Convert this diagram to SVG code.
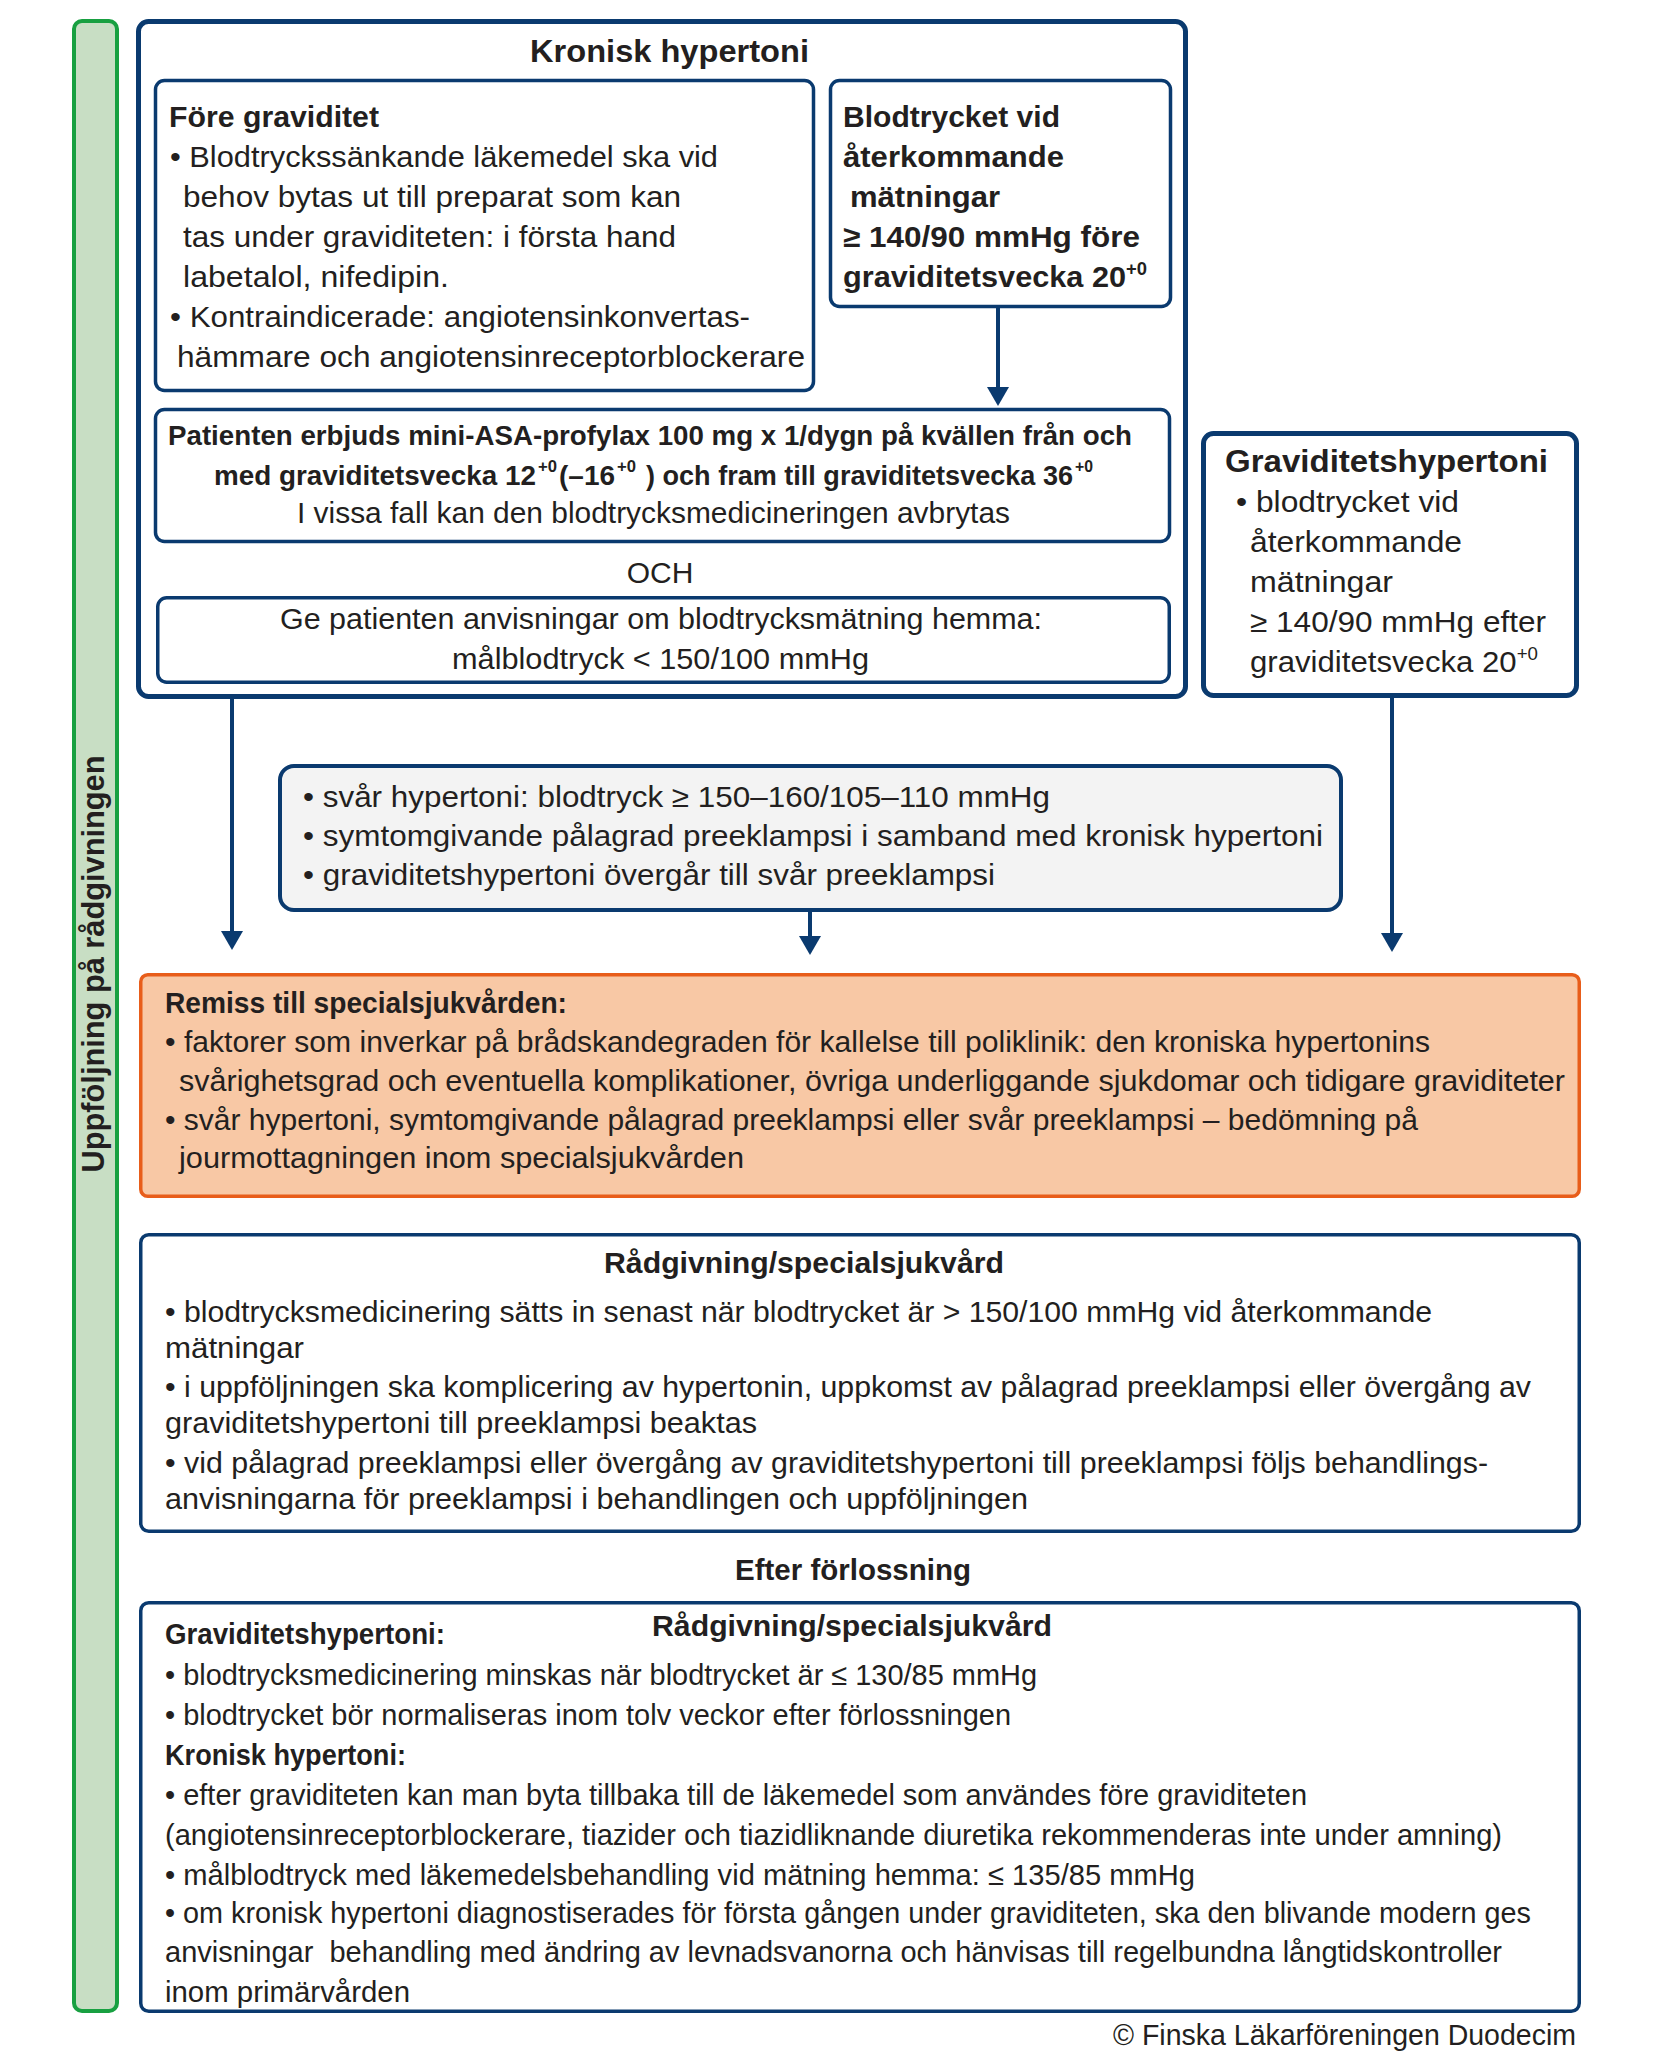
<svg xmlns="http://www.w3.org/2000/svg" width="1654" height="2069" viewBox="0 0 1654 2069">
<defs>
<style>
.t{font-family:"Liberation Sans",Arial,sans-serif;fill:#231f20}
.r{font-size:30px}
.b{font-size:29px;font-weight:bold}
.b28{font-size:28px;font-weight:bold}
.sup{font-size:17px;font-weight:bold}
.b30{font-size:30px;font-weight:bold}
.h{font-size:32px;font-weight:bold}
.box{fill:#fff;stroke:#0a3a6f;stroke-width:3.5}
.obox{fill:#fff;stroke:#0a3a6f;stroke-width:5}
.conn{fill:none;stroke:#0a3a6f;stroke-width:4}
</style>
<marker id="ah" viewBox="0 0 19 22" markerWidth="19" markerHeight="22" refX="9" refY="11" orient="auto" markerUnits="userSpaceOnUse">
<path d="M0,0 L19,11 L0,22 Z" fill="#0a3a6f"/>
</marker>
</defs>
<rect width="1654" height="2069" fill="#fff"/>

<g id="side-label">
<rect x="74" y="21" width="43" height="1990" rx="8" fill="#c8dec4" stroke="#18a041" stroke-width="4"/>
<text class="t" x="104" y="964" font-size="31" font-weight="bold" text-anchor="middle" textLength="417" lengthAdjust="spacingAndGlyphs" transform="rotate(-90 104 964)">Uppföljning på rådgivningen</text>
</g>

<g id="kronisk-hypertoni">
<rect class="obox" x="138.5" y="21.5" width="1047" height="675" rx="10"/>
<text class="t h" x="530" y="62" textLength="279" lengthAdjust="spacingAndGlyphs">Kronisk hypertoni</text>
</g>

<g id="fore-graviditet">
<rect class="box" x="155.5" y="80.5" width="658" height="310" rx="9"/>
<text class="t b30" x="169" y="127" textLength="210" lengthAdjust="spacingAndGlyphs">Före graviditet</text>
<text class="t r" x="170" y="167" textLength="548" lengthAdjust="spacingAndGlyphs">• Blodtryckssänkande läkemedel ska vid</text>
<text class="t r" x="183" y="207" textLength="498" lengthAdjust="spacingAndGlyphs">behov bytas ut till preparat som kan</text>
<text class="t r" x="183" y="247" textLength="493" lengthAdjust="spacingAndGlyphs">tas under graviditeten: i första hand</text>
<text class="t r" x="183" y="287" textLength="266" lengthAdjust="spacingAndGlyphs">labetalol, nifedipin.</text>
<text class="t r" x="170" y="327" textLength="580" lengthAdjust="spacingAndGlyphs">• Kontraindicerade: angiotensinkonvertas-</text>
<text class="t r" x="177" y="367" textLength="628" lengthAdjust="spacingAndGlyphs">hämmare och angiotensinreceptorblockerare</text>
</g>

<g id="blodtrycket-fore">
<rect class="box" x="830.5" y="80.5" width="340" height="226" rx="9"/>
<text class="t b30" x="843" y="127" textLength="217" lengthAdjust="spacingAndGlyphs">Blodtrycket vid</text>
<text class="t b30" x="843" y="167" textLength="221" lengthAdjust="spacingAndGlyphs">återkommande</text>
<text class="t b30" x="850" y="207" textLength="150" lengthAdjust="spacingAndGlyphs">mätningar</text>
<text class="t b30" x="843" y="247" textLength="297" lengthAdjust="spacingAndGlyphs">≥ 140/90 mmHg före</text>
<text class="t b30" x="843" y="287" textLength="304" lengthAdjust="spacingAndGlyphs">graviditetsvecka 20<tspan font-size="18" dy="-12">+0</tspan></text>
</g>

<g id="asa-profylax">
<rect class="box" x="155.5" y="409.5" width="1014" height="132" rx="9"/>
<text class="t b28" x="168" y="445" textLength="964" lengthAdjust="spacingAndGlyphs">Patienten erbjuds mini-ASA-profylax 100 mg x 1/dygn på kvällen från och</text>
<text class="t b28" x="214" y="485" textLength="322" lengthAdjust="spacingAndGlyphs">med graviditetsvecka 12</text>
<text class="t sup" x="538" y="472" textLength="19" lengthAdjust="spacingAndGlyphs">+0</text>
<text class="t b28" x="559" y="485" textLength="56" lengthAdjust="spacingAndGlyphs">(–16</text>
<text class="t sup" x="617" y="472" textLength="19" lengthAdjust="spacingAndGlyphs">+0</text>
<text class="t" font-size="27" font-weight="bold" x="646" y="485" textLength="427" lengthAdjust="spacingAndGlyphs">) och fram till graviditetsvecka 36</text>
<text class="t sup" x="1075" y="472" textLength="18" lengthAdjust="spacingAndGlyphs">+0</text>
<text class="t r" x="297" y="523" textLength="713" lengthAdjust="spacingAndGlyphs">I vissa fall kan den blodtrycksmedicineringen avbrytas</text>
</g>

<text id="och-label" class="t r" x="660" y="583" text-anchor="middle">OCH</text>

<g id="hemmamatning">
<rect class="box" x="157.75" y="597.75" width="1011.5" height="84.5" rx="9"/>
<text class="t r" x="280" y="629" textLength="762" lengthAdjust="spacingAndGlyphs">Ge patienten anvisningar om blodtrycksmätning hemma:</text>
<text class="t r" x="452" y="669" textLength="417" lengthAdjust="spacingAndGlyphs">målblodtryck &lt; 150/100 mmHg</text>
</g>

<g id="graviditetshypertoni">
<rect class="obox" x="1203.5" y="433.5" width="373" height="262" rx="10"/>
<text class="t h" x="1225" y="472" textLength="323" lengthAdjust="spacingAndGlyphs">Graviditetshypertoni</text>
<text class="t r" x="1236" y="512" textLength="223" lengthAdjust="spacingAndGlyphs">• blodtrycket vid</text>
<text class="t r" x="1250" y="552" textLength="212" lengthAdjust="spacingAndGlyphs">återkommande</text>
<text class="t r" x="1250" y="592" textLength="143" lengthAdjust="spacingAndGlyphs">mätningar</text>
<text class="t r" x="1250" y="632" textLength="296" lengthAdjust="spacingAndGlyphs">≥ 140/90 mmHg efter</text>
<text class="t r" x="1250" y="672" textLength="288" lengthAdjust="spacingAndGlyphs">graviditetsvecka 20<tspan font-size="18" dy="-12">+0</tspan></text>
</g>

<g id="svar-hypertoni">
<rect x="280" y="766" width="1061" height="144" rx="14" fill="#f3f3f3" stroke="#0a3a6f" stroke-width="4"/>
<text class="t r" x="303" y="807" textLength="747" lengthAdjust="spacingAndGlyphs">• svår hypertoni: blodtryck ≥ 150–160/105–110 mmHg</text>
<text class="t r" x="303" y="846" textLength="1020" lengthAdjust="spacingAndGlyphs">• symtomgivande pålagrad preeklampsi i samband med kronisk hypertoni</text>
<text class="t r" x="303" y="885" textLength="692" lengthAdjust="spacingAndGlyphs">• graviditetshypertoni övergår till svår preeklampsi</text>
</g>

<g id="remiss">
<rect x="140.75" y="974.75" width="1438.5" height="221.5" rx="7" fill="#f8c8a5" stroke="#e85d1a" stroke-width="3.5"/>
<text class="t b" x="165" y="1013" textLength="402" lengthAdjust="spacingAndGlyphs">Remiss till specialsjukvården:</text>
<text class="t r" x="165" y="1052" textLength="1265" lengthAdjust="spacingAndGlyphs">• faktorer som inverkar på brådskandegraden för kallelse till poliklinik: den kroniska hypertonins</text>
<text class="t r" x="179" y="1091" textLength="1386" lengthAdjust="spacingAndGlyphs">svårighetsgrad och eventuella komplikationer, övriga underliggande sjukdomar och tidigare graviditeter</text>
<text class="t r" x="165" y="1130" textLength="1253" lengthAdjust="spacingAndGlyphs">• svår hypertoni, symtomgivande pålagrad preeklampsi eller svår preeklampsi – bedömning på</text>
<text class="t r" x="179" y="1168" textLength="565" lengthAdjust="spacingAndGlyphs">jourmottagningen inom specialsjukvården</text>
</g>

<g id="radgivning">
<rect class="box" x="140.75" y="1234.75" width="1438.5" height="296.5" rx="8"/>
<text class="t b30" x="604" y="1273" textLength="400" lengthAdjust="spacingAndGlyphs">Rådgivning/specialsjukvård</text>
<text class="t r" x="165" y="1322" textLength="1267" lengthAdjust="spacingAndGlyphs">• blodtrycksmedicinering sätts in senast när blodtrycket är &gt; 150/100 mmHg vid återkommande</text>
<text class="t r" x="165" y="1358" textLength="139" lengthAdjust="spacingAndGlyphs">mätningar</text>
<text class="t r" x="165" y="1397" textLength="1366" lengthAdjust="spacingAndGlyphs">• i uppföljningen ska komplicering av hypertonin, uppkomst av pålagrad preeklampsi eller övergång av</text>
<text class="t r" x="165" y="1433" textLength="592" lengthAdjust="spacingAndGlyphs">graviditetshypertoni till preeklampsi beaktas</text>
<text class="t r" x="165" y="1473" textLength="1323" lengthAdjust="spacingAndGlyphs">• vid pålagrad preeklampsi eller övergång av graviditetshypertoni till preeklampsi följs behandlings-</text>
<text class="t r" x="165" y="1509" textLength="863" lengthAdjust="spacingAndGlyphs">anvisningarna för preeklampsi i behandlingen och uppföljningen</text>
</g>

<text id="efter-forlossning" class="t b30" x="735" y="1580" textLength="236" lengthAdjust="spacingAndGlyphs">Efter förlossning</text>

<g id="efter-radgivning">
<rect class="box" x="140.75" y="1602.75" width="1438.5" height="408.5" rx="8"/>
<text class="t b30" x="652" y="1636" textLength="400" lengthAdjust="spacingAndGlyphs">Rådgivning/specialsjukvård</text>
<text class="t b" x="165" y="1644" textLength="280" lengthAdjust="spacingAndGlyphs">Graviditetshypertoni:</text>
<text class="t r" x="165" y="1685" textLength="872" lengthAdjust="spacingAndGlyphs">• blodtrycksmedicinering minskas när blodtrycket är ≤ 130/85 mmHg</text>
<text class="t r" x="165" y="1725" textLength="846" lengthAdjust="spacingAndGlyphs">• blodtrycket bör normaliseras inom tolv veckor efter förlossningen</text>
<text class="t b" x="165" y="1765" textLength="241" lengthAdjust="spacingAndGlyphs">Kronisk hypertoni:</text>
<text class="t r" x="165" y="1805" textLength="1142" lengthAdjust="spacingAndGlyphs">• efter graviditeten kan man byta tillbaka till de läkemedel som användes före graviditeten</text>
<text class="t r" x="165" y="1845" textLength="1337" lengthAdjust="spacingAndGlyphs">(angiotensinreceptorblockerare, tiazider och tiazidliknande diuretika rekommenderas inte under amning)</text>
<text class="t r" x="165" y="1885" textLength="1030" lengthAdjust="spacingAndGlyphs">• målblodtryck med läkemedelsbehandling vid mätning hemma: ≤ 135/85 mmHg</text>
<text class="t r" x="165" y="1923" textLength="1366" lengthAdjust="spacingAndGlyphs">• om kronisk hypertoni diagnostiserades för första gången under graviditeten, ska den blivande modern ges</text>
<text class="t r" x="165" y="1962" textLength="1337" lengthAdjust="spacingAndGlyphs" xml:space="preserve">anvisningar  behandling med ändring av levnadsvanorna och hänvisas till regelbundna långtidskontroller</text>
<text class="t r" x="165" y="2002" textLength="245" lengthAdjust="spacingAndGlyphs">inom primärvården</text>
</g>

<text id="copyright" class="t r" x="1113" y="2045" textLength="463" lengthAdjust="spacingAndGlyphs">© Finska Läkarföreningen Duodecim</text>

<g id="connectors">
<path class="conn" d="M998,307 V396" marker-end="url(#ah)"/>
<path class="conn" d="M232,699 V940" marker-end="url(#ah)"/>
<path class="conn" d="M810,912 V945" marker-end="url(#ah)"/>
<path class="conn" d="M1392,698 V942" marker-end="url(#ah)"/>
</g>
</svg>
